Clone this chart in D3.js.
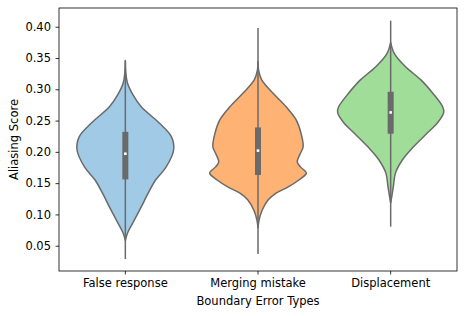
<!DOCTYPE html>
<html>
<head>
<meta charset="utf-8">
<script src="https://cdn.jsdelivr.net/npm/d3@7"></script>
<style>
body { margin: 0; background: #fff; }
text { font-family: "DejaVu Sans", sans-serif; }
</style>
</head>
<body>
<script>
const categories = ["False response", "Merging mistake", "Displacement"];
const colors = ["#a0cae6", "#feb274", "#a0dd98"];

// violin outlines: [score, relative half width]
const falseResponse = [
  [0.058, 0], [0.070, 0.04], [0.091, 0.17], [0.112, 0.30], [0.134, 0.43],
  [0.155, 0.57], [0.176, 0.77], [0.203, 0.91], [0.224, 0.87], [0.246, 0.64],
  [0.272, 0.30], [0.291, 0.145], [0.310, 0.04], [0.328, 0.008], [0.345, 0]
];
const mergingMistake = [
  [0.078, 0], [0.091, 0.02], [0.107, 0.08], [0.123, 0.19], [0.134, 0.34],
  [0.144, 0.57], [0.155, 0.77], [0.166, 0.91], [0.176, 0.80], [0.184, 0.74],
  [0.196, 0.79], [0.208, 0.85], [0.230, 0.81], [0.251, 0.72], [0.272, 0.53],
  [0.294, 0.28], [0.315, 0.07], [0.331, 0.01], [0.345, 0]
];
const displacement = [
  [0.118, 0], [0.128, 0.02], [0.144, 0.05], [0.166, 0.09], [0.187, 0.22],
  [0.208, 0.43], [0.230, 0.69], [0.246, 0.88], [0.263, 1.0], [0.272, 0.98],
  [0.294, 0.79], [0.315, 0.57], [0.336, 0.28], [0.357, 0.07], [0.375, 0]
];
const violins = [falseResponse, mergingMistake, displacement];

// inner box: [low whisker, q1, median, q3, high whisker]
const boxes = [
  [0.0287, 0.156, 0.197, 0.232, 0.347],
  [0.0367, 0.163, 0.202, 0.239, 0.398],
  [0.0804, 0.229, 0.263, 0.296, 0.4096]
];
const yTicks = [0.05, 0.10, 0.15, 0.20, 0.25, 0.30, 0.35, 0.40];

const margin = {top: 8, right: 8, bottom: 45, left: 59};
const width = 465 - margin.left - margin.right;
const height = 316 - margin.top - margin.bottom;

const svg = d3.select("body").append("svg")
  .attr("width", 465)
  .attr("height", 316)
  .append("g")
  .attr("transform", "translate(" + margin.left + "," + margin.top + ")");

const x = d3.scaleBand()
  .domain(categories)
  .range([0, width]);

const y = d3.scaleLinear()
  .domain([0.0096, 0.4299])
  .range([height, 0]);

const w = d3.scaleLinear()
  .domain([0, 1])
  .range([0, x.bandwidth() * 0.4]);

const gray = "#6a6a6a";

violins.forEach((v, i) => {
  const cx = x(categories[i]) + x.bandwidth() / 2;
  const area = d3.area()
    .y(d => y(d[0]))
    .x0(d => cx - w(d[1]))
    .x1(d => cx + w(d[1]))
    .curve(d3.curveCatmullRom);
  svg.append("path")
    .attr("d", area(v))
    .attr("fill", colors[i])
    .attr("stroke", gray)
    .attr("stroke-width", 1.5);

  const b = boxes[i];
  svg.append("line")
    .attr("x1", cx).attr("x2", cx)
    .attr("y1", y(b[0])).attr("y2", y(b[4]))
    .attr("stroke", gray)
    .attr("stroke-width", 1.5);
  svg.append("rect")
    .attr("x", cx - 3)
    .attr("width", 6)
    .attr("y", y(b[3]))
    .attr("height", y(b[1]) - y(b[3]))
    .attr("fill", gray);
  svg.append("rect")
    .attr("x", cx - 1.3)
    .attr("width", 2.6)
    .attr("y", y(b[2]) - 1.3)
    .attr("height", 2.6)
    .attr("fill", "#fff");
});

const xAxis = svg.append("g")
  .attr("transform", "translate(0," + height + ")")
  .call(d3.axisBottom(x).tickSize(3.5).tickPadding(4.5));
const yAxis = svg.append("g")
  .call(d3.axisLeft(y).tickValues(yTicks).tickFormat(d3.format(".2f")).tickSize(3.5).tickPadding(4.5));

[xAxis, yAxis].forEach(g => {
  g.select(".domain").remove();
  g.selectAll("text").style("font-size", "11.5px").style("font-family", "DejaVu Sans").attr("fill", "#000");
  g.selectAll("line").attr("stroke", "#000").attr("stroke-width", 0.8);
});

svg.append("rect")
  .attr("width", width)
  .attr("height", height)
  .attr("fill", "none")
  .attr("stroke", "#000")
  .attr("stroke-width", 0.8);

svg.append("text")
  .attr("x", width / 2)
  .attr("y", height + 34)
  .attr("text-anchor", "middle")
  .style("font-size", "11.5px")
  .text("Boundary Error Types");

svg.append("text")
  .attr("transform", "rotate(-90)")
  .attr("x", -height / 2)
  .attr("y", -41)
  .attr("text-anchor", "middle")
  .style("font-size", "11.5px")
  .text("Aliasing Score");
</script>
</body>
</html>
